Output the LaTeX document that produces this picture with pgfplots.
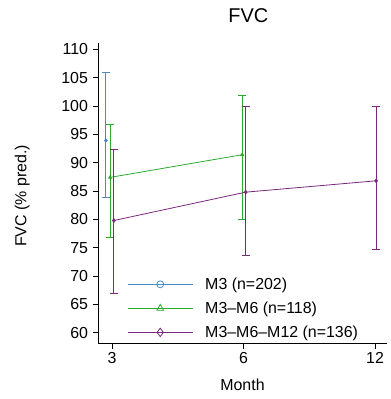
\documentclass[border=0pt]{standalone}
\usepackage{fontspec}
\setmainfont{Liberation Sans}
\usepackage{pgfplots}
\pgfplotsset{compat=1.18}
\definecolor{cblue}{RGB}{70,140,205}
\definecolor{cgreen}{RGB}{45,170,45}
\definecolor{cpurple}{RGB}{120,40,125}
\begin{document}
\begin{tikzpicture}
\useasboundingbox (-98bp,-56bp) rectangle (293bp,343bp);
\begin{axis}[
  at={(0,0)}, anchor=south west,
  scale only axis, width=289bp, height=300bp,
  xmode=log, xmin=2.787, xmax=12.78,
  ymin=58.2, ymax=111.1,
  axis x line*=bottom, axis y line*=left,
  xtick={3,6,12}, xticklabels={3,6,12},
  ytick={60,65,...,110},
  tick align=outside, major tick length=5.5bp,
  tick style={black, line width=0.6pt},
  axis line style={line width=0.8pt},
  /pgf/number format/assume math mode=true,
  tick label style={font=\fontsize{16}{18}\selectfont},
  yticklabel style={xshift=-1bp},
  title={FVC}, title style={font=\fontsize{20}{22}\selectfont, at={(axis description cs:0.52,1)}, anchor=base, yshift=15bp},
  xlabel={Month}, ylabel={FVC (\% pred.)},
  label style={font=\fontsize{16}{18}\selectfont},
  xlabel style={at={(axis description cs:0.5,0)}, anchor=base, yshift=-47bp},
  ylabel style={at={(axis description cs:-0.262,0.49)}, anchor=center},
  legend style={draw=none, fill=none, at={(0.097,0.228)}, anchor=north west,
    font=\fontsize{16}{18}\selectfont, row sep=7bp, inner sep=1pt,
    nodes={inner xsep=4bp},
    /tikz/every odd column/.append style={column sep=8bp}},
  legend cell align=left,
  legend image code/.code={\draw[mark repeat=2,mark phase=2,#1] plot coordinates {(0cm,0cm) (1.15cm,0cm) (2.3cm,0cm)};},
  error bars/error bar style={line width=0.8pt},
  every axis plot/.append style={line width=0.8pt},
]
\addlegendimage{cblue, line width=0.8pt, mark=o, mark size=3.5pt, mark options={solid, fill=white}}
\addlegendentry{M3 (n=202)}
\addlegendimage{cgreen, line width=0.8pt, mark=triangle, mark size=3.9pt, mark options={solid, fill=white}}
\addlegendentry{M3--M6 (n=118)}
\addlegendimage{cpurple, line width=0.8pt, mark=diamond, mark size=4.2pt, mark options={solid, fill=white}}
\addlegendentry{M3--M6--M12 (n=136)}
\addplot+[forget plot, cblue, mark=*, mark size=1.5pt, mark options={solid, fill=cblue},
  error bars/.cd, y dir=both, y explicit, error mark options={mark size=4bp, rotate=90}]
  coordinates {(2.905,93.9) += (0,12.0) -= (0,10.0)};
\addplot+[forget plot, cgreen, mark=triangle*, mark size=1.7pt, mark options={solid, fill=cgreen},
  error bars/.cd, y dir=both, y explicit, error mark options={mark size=4bp, rotate=90}]
  coordinates {(2.97,87.4) += (0,9.4) -= (0,10.5)
               (5.96,91.4) += (0,10.5) -= (0,11.4)};
\addplot+[forget plot, cpurple, mark=diamond*, mark size=1.8pt, mark options={solid, fill=cpurple},
  error bars/.cd, y dir=both, y explicit, error mark options={mark size=4bp, rotate=90}]
  coordinates {(3.03,79.8) += (0,12.6) -= (0,12.9)
               (6.07,84.8) += (0,15.1) -= (0,11.2)
               (12.07,86.8) += (0,13.2) -= (0,12.0)};
\end{axis}
\end{tikzpicture}
\end{document}
